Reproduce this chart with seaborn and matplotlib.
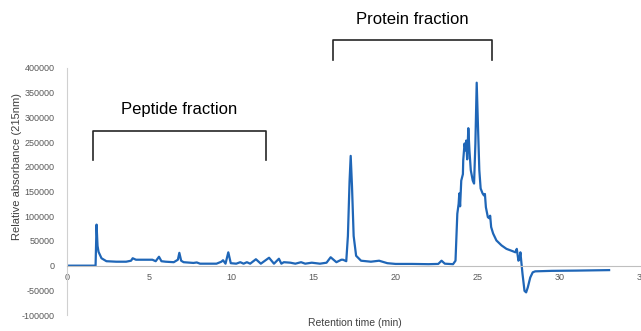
import seaborn as sns
import pandas as pd
import matplotlib.pyplot as plt

plt.rcParams["axes.unicode_minus"] = False

# chromatogram trace
time_min = [0.0, 1.0, 1.74, 1.8, 1.86, 1.92, 2.1, 2.4, 3.0, 3.6, 3.9, 4.0, 4.2, 4.8, 5.2, 5.4,
            5.6, 5.75, 6.0, 6.5, 6.75, 6.84, 6.95, 7.1, 7.7, 7.9, 8.1, 9.1, 9.4, 9.5, 9.65,
            9.82, 9.97, 10.3, 10.55, 10.75, 10.95, 11.15, 11.5, 11.8, 12.3, 12.6, 12.9, 13.05,
            13.2, 13.6, 13.9, 14.25, 14.5, 14.9, 15.4, 15.8, 16.05, 16.4, 16.7, 16.8, 17.0,
            17.1, 17.2, 17.27, 17.35, 17.45, 17.6, 17.9, 18.5, 19.0, 19.5, 20.0, 21.0, 22.0,
            22.6, 22.8, 23.0, 23.5, 23.65, 23.76, 23.84, 23.88, 23.93, 24.0, 24.1, 24.12,
            24.2, 24.26, 24.3, 24.36, 24.43, 24.5, 24.58, 24.7, 24.78, 24.86, 24.94, 25.02,
            25.1, 25.18, 25.3, 25.38, 25.44, 25.5, 25.62, 25.7, 25.76, 25.82, 25.94, 26.14,
            26.45, 26.75, 27.15, 27.3, 27.38, 27.48, 27.55, 27.6, 27.65, 27.73, 27.85, 27.95,
            28.05, 28.2, 28.35, 28.5, 29.5, 31.0, 33.0]
absorbance = [0, 0, 0, 83000, 40000, 28000, 15000, 9000, 8000, 8000, 10000, 15000, 12000, 12000,
              12000, 9000, 18000, 9000, 8000, 7000, 12000, 26000, 10000, 7000, 5500, 6500, 4000,
              4000, 8000, 11000, 4000, 27000, 5000, 4000, 7000, 4000, 7000, 4000, 13000, 4000,
              16000, 4000, 14000, 4000, 7000, 6000, 4000, 7000, 4000, 6000, 4000, 6000, 17000,
              7000, 12000, 12000, 9000, 60000, 170000, 222000, 160000, 60000, 20000, 10000, 8000,
              10000, 5000, 3500, 3500, 3000, 3500, 10000, 4000, 3000, 10000, 105000, 125000,
              146000, 120000, 172000, 185000, 213000, 247000, 233000, 253000, 215000, 278000,
              232000, 193000, 172000, 166000, 247000, 370000, 280000, 193000, 156000, 146000,
              142000, 145000, 118000, 98000, 96000, 101000, 78000, 65000, 51000, 41000, 34000,
              29000, 27000, 34000, 10000, 14000, 27000, 10000, -17000, -51000, -54000, -44000,
              -24000, -13500, -11500, -10500, -10000, -9000]

# bracketed regions: (start, end, label)
fractions = ["Peptide fraction", "Protein fraction"]
frac_start = [1.58, 16.2]
frac_end = [12.1, 25.9]
frac_top = [272000, 456000]
frac_bottom = [213000, 416000]
frac_text_y = [316000, 497000]

df = pd.DataFrame({"time": time_min, "abs": absorbance})

fig = plt.figure(figsize=(6.41, 3.31), dpi=100)
ax = fig.add_axes([0.1045, 0.048, 0.897, 0.747])
sns.lineplot(data=df, x="time", y="abs", ax=ax, color="#1f66b7", linewidth=1.6)

ax.set_xlim(0, 35)
ax.set_ylim(-100000, 400000)
ax.set_xticks(range(0, 36, 5))
ax.set_yticks(range(-100000, 400001, 50000))
for s in ["top", "right"]:
    ax.spines[s].set_visible(False)
ax.spines["bottom"].set_position(("data", 0))
ax.spines["bottom"].set_color("#bfbfbf")
ax.spines["left"].set_color("#d0d0d0")
ax.tick_params(length=0, labelsize=6.5, labelcolor="#595959")
ax.tick_params(axis="x", pad=5)
ax.tick_params(axis="y", pad=9)
for lab in ax.get_xticklabels() + ax.get_yticklabels():
    lab.set_fontfamily("Liberation Sans")

ax.set_xlabel("Retention time (min)", fontsize=7.5, color="#404040", family="Liberation Sans")
ax.set_ylabel("Relative absorbance (215nm)", fontsize=8, color="#404040", family="Liberation Sans")
ax.xaxis.set_label_coords(0.5, -0.012)
ax.yaxis.set_label_coords(-0.078, 0.60)

for i in range(len(fractions)):
    ax.plot([frac_start[i], frac_start[i], frac_end[i], frac_end[i]],
            [frac_bottom[i], frac_top[i], frac_top[i], frac_bottom[i]],
            color="#262626", linewidth=1.2, clip_on=False)
    ax.text((frac_start[i] + frac_end[i]) / 2, frac_text_y[i], fractions[i],
            ha="center", va="center", fontsize=12, family="Liberation Sans", clip_on=False)

plt.savefig("out.png", dpi=100)
